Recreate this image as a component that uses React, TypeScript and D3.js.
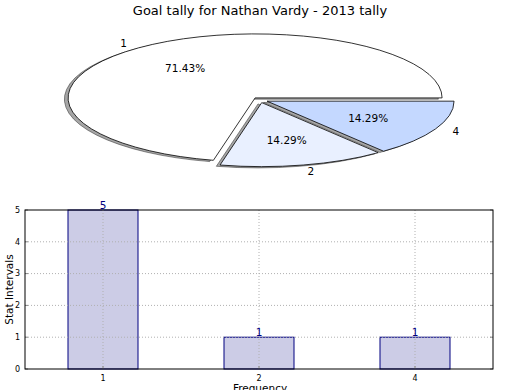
import React from "react";
import * as d3 from "d3";

const pieLabels = ["1", "2", "4"];
const pieValues = [5, 1, 1];
const pieColors = ["#ffffff", "#e9f0ff", "#c4d8ff"];

const barCategories = ["1", "2", "4"];
const barValues = [5, 1, 1];
const yTicks = [0, 1, 2, 3, 4, 5];

const W = 520;
const H = 390;
const FONT = "DejaVu Sans, sans-serif";

export default function App() {
  const cx = 260, cy = 100, rx = 187, ry = 64;
  const explode = 0.042;
  const total = d3.sum(pieValues);
  let acc = 0;
  const slices = pieValues.map((v, i) => {
    const t0 = (acc / total) * 2 * Math.PI;
    acc += v;
    const t1 = (acc / total) * 2 * Math.PI;
    return { v, i, t0, t1, mid: (t0 + t1) / 2 };
  });
  const arc = d3.arc<any>().innerRadius(0).outerRadius(1);

  const left = 25, right = 493, top = 210, bottom = 369;
  const xc = d3.scalePoint().domain(barCategories).range([left, right]).padding(0.5);
  const y = d3.scaleLinear().domain([0, 5]).range([bottom, top]);
  const bw = 70;

  return (
    <svg width={W} height={H} style={{ position: "absolute", left: 0, top: 0 }} fontFamily={FONT}>
      <rect width={W} height={H} fill="#fff" />
      <text x={260} y={15} textAnchor="middle" fontSize={13} fill="#000">
        Goal tally for Nathan Vardy - 2013 tally
      </text>
      {slices.map((s) => {
        const dx = Math.cos(s.mid) * explode;
        const dy = Math.sin(s.mid) * explode;
        const ox = cx + dx * rx;
        const oy = cy - dy * ry;
        const d = arc({ startAngle: Math.PI / 2 - s.t1, endAngle: Math.PI / 2 - s.t0 }) as string;
        return (
          <g key={"w" + s.i}>
            <path
              d={d}
              transform={`translate(${ox - 0.02 * rx},${oy + 0.02 * ry}) scale(${rx},${ry})`}
              fill="rgba(77,77,77,0.5)"
              stroke="rgba(0,0,0,0.5)"
              strokeWidth={0.8}
              vectorEffect="non-scaling-stroke"
            />
            <path
              d={d}
              transform={`translate(${ox},${oy}) scale(${rx},${ry})`}
              fill={pieColors[s.i]}
              stroke="#000"
              strokeWidth={0.8}
              vectorEffect="non-scaling-stroke"
            />
          </g>
        );
      })}
      {slices.map((s) => {
        const c = Math.cos(s.mid), sn = Math.sin(s.mid);
        const lx = cx + c * (explode + 1.1) * rx;
        const ly = cy - sn * (explode + 1.1) * ry;
        const px = cx + c * (explode + 0.6) * rx;
        const py = cy - sn * (explode + 0.6) * ry;
        const pct = ((s.v / total) * 100).toFixed(2) + "%";
        return (
          <g key={"l" + s.i} fontSize={10.5} fill="#000">
            <text x={lx} y={ly} dy="0.35em" textAnchor={c < 0 ? "end" : "start"}>{pieLabels[s.i]}</text>
            <text x={px} y={py} dy="0.35em" textAnchor="middle">{pct}</text>
          </g>
        );
      })}

      {barValues.map((v, i) => {
        const xm = xc(barCategories[i]) as number;
        return (
          <rect key={"b" + i} x={xm - bw / 2} y={y(v)} width={bw} height={y(0) - y(v)}
            fill="#ccccE6" stroke="#000080" strokeWidth={1} />
        );
      })}
      {yTicks.slice(1, -1).map((t) => (
        <line key={"gy" + t} x1={left} x2={right} y1={y(t)} y2={y(t)} stroke="#b0b0b0" strokeWidth={1} strokeDasharray="1,2" />
      ))}
      {barCategories.map((c) => (
        <line key={"gx" + c} x1={xc(c) as number} x2={xc(c) as number} y1={top} y2={bottom} stroke="#b0b0b0" strokeWidth={1} strokeDasharray="1,2" />
      ))}
      {yTicks.map((t) => (
        <g key={"ty" + t}>
          <line x1={left} x2={left + 3} y1={y(t)} y2={y(t)} stroke="#888" />
          <line x1={right - 3} x2={right} y1={y(t)} y2={y(t)} stroke="#888" />
          <text x={left - 5} y={y(t)} dy="0.35em" textAnchor="end" fontSize={8} fill="#000">{t}</text>
        </g>
      ))}
      {barCategories.map((c) => (
        <g key={"tx" + c}>
          <line x1={xc(c) as number} x2={xc(c) as number} y1={bottom} y2={bottom - 3} stroke="#888" />
          <text x={xc(c) as number} y={bottom + 12} textAnchor="middle" fontSize={8} fill="#000">{c}</text>
        </g>
      ))}
      <rect x={left} y={top} width={right - left} height={bottom - top} fill="none" stroke="#000" strokeWidth={1} />
      {barValues.map((v, i) => (
        <text key={"v" + i} x={xc(barCategories[i]) as number} y={y(v) - 1} textAnchor="middle" fontSize={10.5} fill="#000080">{v}</text>
      ))}
      <text x={260} y={392} textAnchor="middle" fontSize={10.5} fill="#000">Frequency</text>
      <text transform={`translate(13,${(top + bottom) / 2}) rotate(-90)`} textAnchor="middle" fontSize={10.5} fill="#000">Stat Intervals</text>
    </svg>
  );
}
